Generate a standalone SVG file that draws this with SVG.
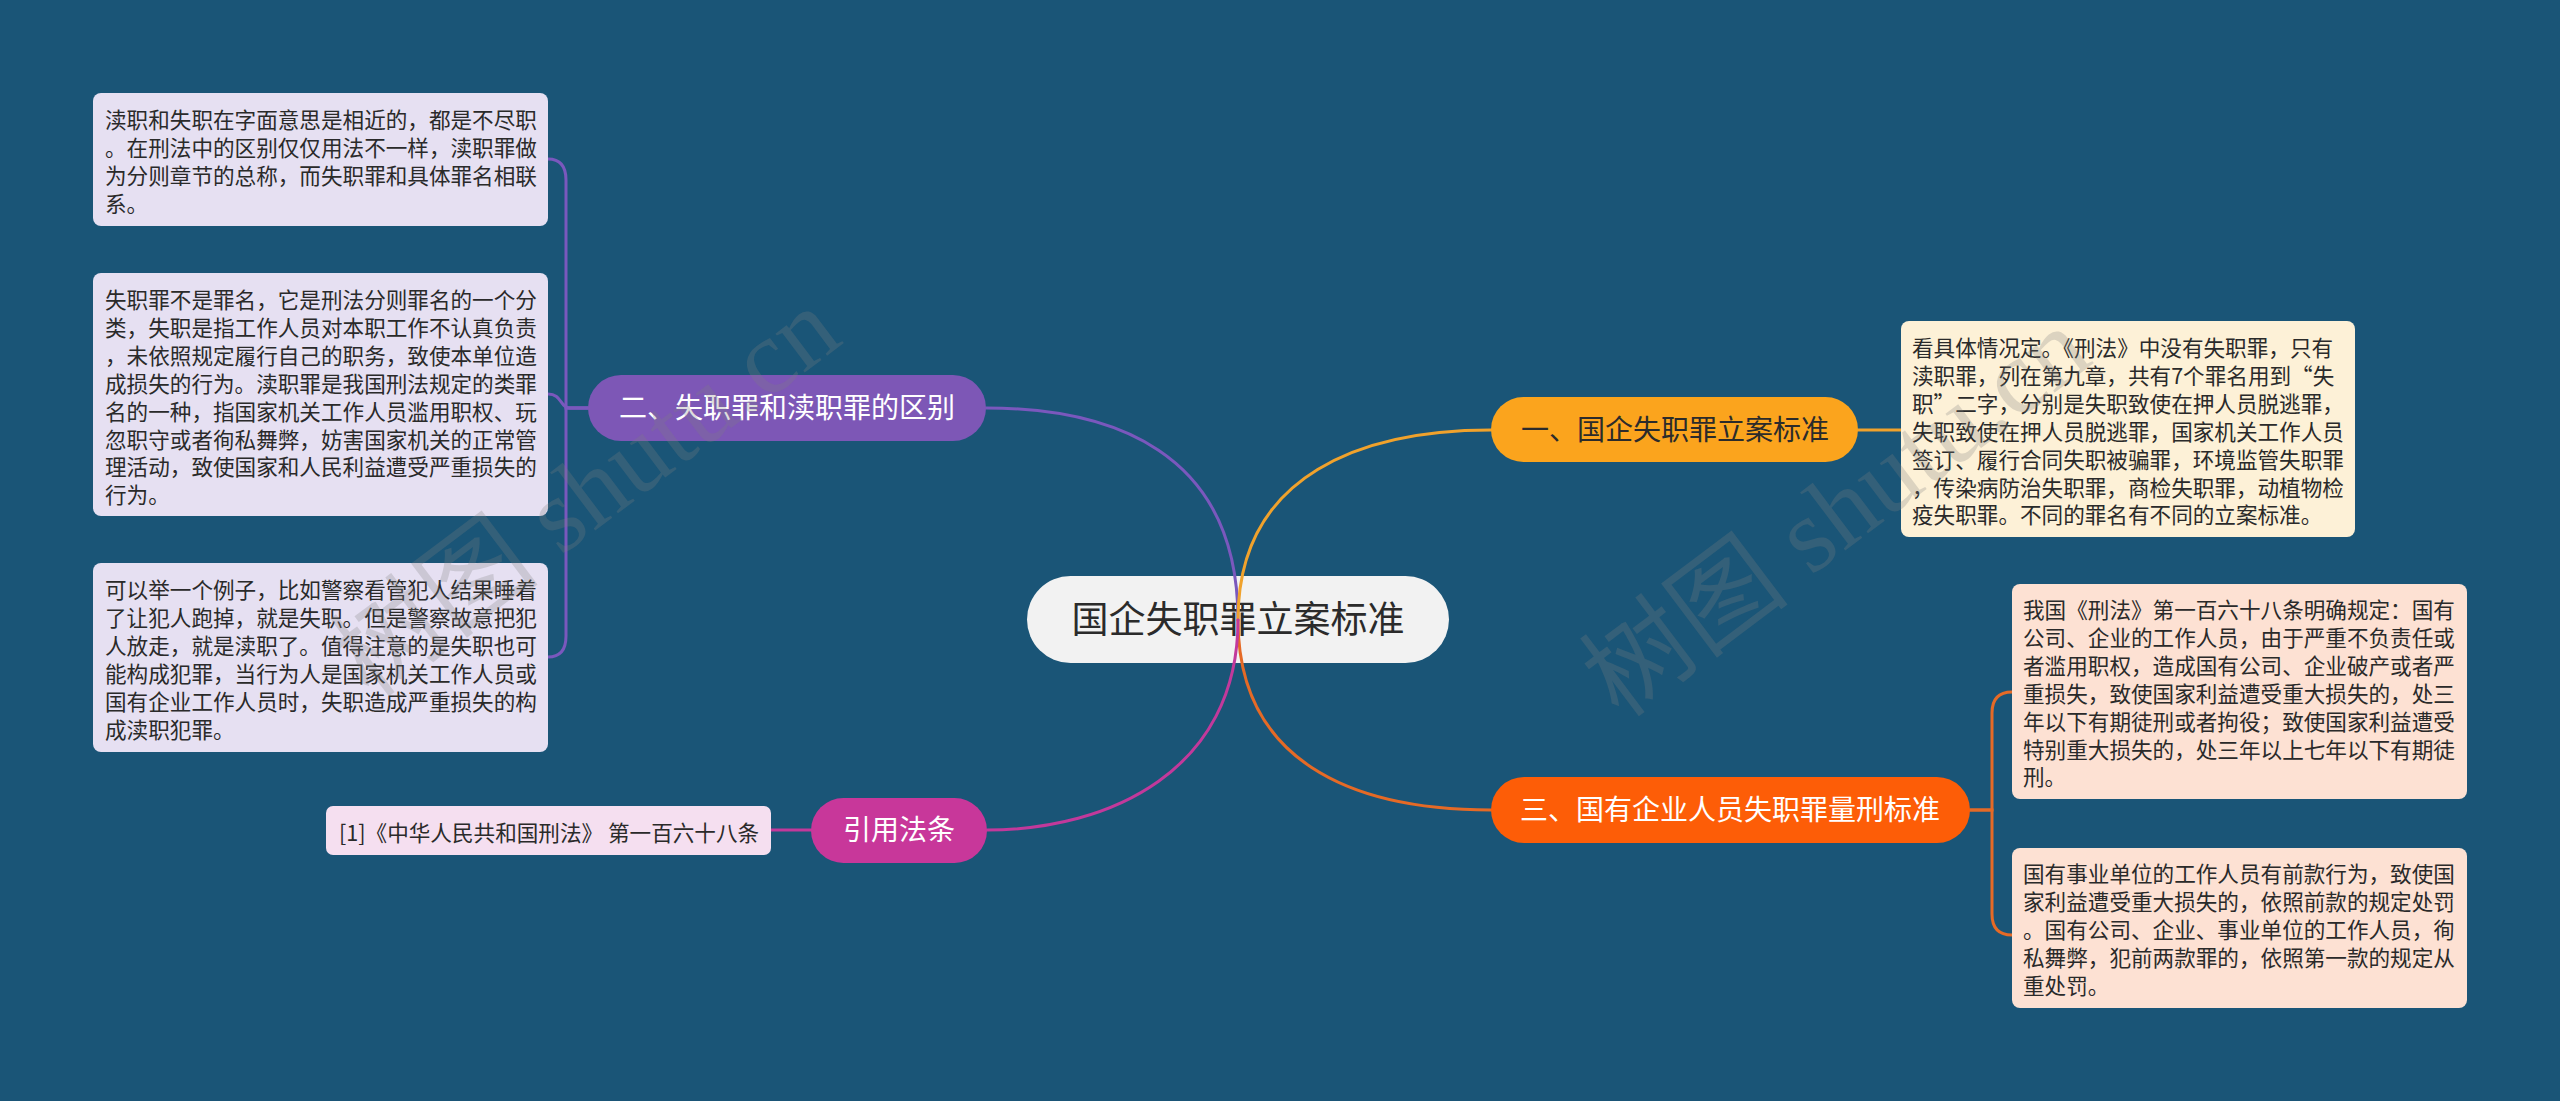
<svg xmlns="http://www.w3.org/2000/svg" width="2560" height="1101" viewBox="0 0 2560 1101">
<style>
text{font-family:"Noto Sans CJK SC","Noto Sans",sans-serif;}
.leaf{font-size:21.6px;fill:#2a2a2a;}
.br{font-size:28px;text-anchor:middle;}
.wm{font-family:"Liberation Serif","Noto Sans CJK SC",serif;font-size:106px;fill:#808080;fill-opacity:0.26;}
.c{fill:none;stroke-width:3;stroke-linecap:round;}
</style>
<rect x="0" y="0" width="2560" height="1101" fill="#1a5577"/>

<g id="center">
<rect x="1027" y="576" width="422" height="87" rx="43.5" fill="#f2f2f2"/>
<text x="1238" y="633" font-size="37" text-anchor="middle" fill="#2b2b2b">国企失职罪立案标准</text>
</g>

<g id="connectors">
<path class="c" stroke="#7a58bd" d="M986,408 C1110,408 1238,450 1238,620"/>
<path class="c" stroke="#f0a22c" d="M1491,430 C1366,430 1238,472 1238,620"/>
<path class="c" stroke="#e56a26" d="M1238,620 C1238,760 1350,810 1491,810"/>
<path class="c" stroke="#c2399b" d="M1238,620 C1238,770 1110,830 987,830"/>
<path class="c" stroke="#7a58bd" d="M588,408 H566 V180 Q566,159 548,159"/>
<path class="c" stroke="#7a58bd" d="M588,408 H570 C560,408 562,394 548,394"/>
<path class="c" stroke="#7a58bd" d="M588,408 H566 V636 Q566,657 548,657"/>
<path class="c" stroke="#f0a22c" d="M1858,430 H1901"/>
<path class="c" stroke="#e56a26" d="M1970,810 H1992 V713 Q1992,692 2012,692"/>
<path class="c" stroke="#e56a26" d="M1970,810 H1992 V914 Q1992,935 2012,935"/>
<path class="c" stroke="#c2399b" d="M811,830 H771"/>
</g>

<g id="n1">
<rect x="1491" y="397" width="367" height="65" rx="32.5" fill="#fba41d"/>
<text class="br" x="1675" y="440" fill="#2b2b2b">一、国企失职罪立案标准</text>
</g>
<g id="n1-leaf">
<rect x="1901" y="321" width="454" height="216" rx="8" fill="#fdf1d7"/>
<text class="leaf" fill="#3a2c1c">
<tspan x="1912" y="356">看具体情况定。《刑法》中没有失职罪，只有</tspan>
<tspan x="1912" y="383.9">渎职罪，列在第九章，共有7个罪名用到“失</tspan>
<tspan x="1912" y="411.8">职”二字，分别是失职致使在押人员脱逃罪，</tspan>
<tspan x="1912" y="439.7">失职致使在押人员脱逃罪，国家机关工作人员</tspan>
<tspan x="1912" y="467.6">签订、履行合同失职被骗罪，环境监管失职罪</tspan>
<tspan x="1912" y="495.5">，传染病防治失职罪，商检失职罪，动植物检</tspan>
<tspan x="1912" y="523.4">疫失职罪。不同的罪名有不同的立案标准。</tspan>
</text>
</g>

<g id="n2">
<rect x="588" y="375" width="398" height="66" rx="33" fill="#7d57b6"/>
<text class="br" x="787" y="418" fill="#ffffff">二、失职罪和渎职罪的区别</text>
</g>
<g id="n2-leaf1">
<rect x="93" y="93" width="455" height="133" rx="8" fill="#e6e0f2"/>
<text class="leaf">
<tspan x="105" y="128">渎职和失职在字面意思是相近的，都是不尽职</tspan>
<tspan x="105" y="155.9">。在刑法中的区别仅仅用法不一样，渎职罪做</tspan>
<tspan x="105" y="183.8">为分则章节的总称，而失职罪和具体罪名相联</tspan>
<tspan x="105" y="211.7">系。</tspan>
</text>
</g>
<g id="n2-leaf2">
<rect x="93" y="273" width="455" height="243" rx="8" fill="#e6e0f2"/>
<text class="leaf">
<tspan x="105" y="308">失职罪不是罪名，它是刑法分则罪名的一个分</tspan>
<tspan x="105" y="335.9">类，失职是指工作人员对本职工作不认真负责</tspan>
<tspan x="105" y="363.8">，未依照规定履行自己的职务，致使本单位造</tspan>
<tspan x="105" y="391.7">成损失的行为。渎职罪是我国刑法规定的类罪</tspan>
<tspan x="105" y="419.6">名的一种，指国家机关工作人员滥用职权、玩</tspan>
<tspan x="105" y="447.5">忽职守或者徇私舞弊，妨害国家机关的正常管</tspan>
<tspan x="105" y="475.4">理活动，致使国家和人民利益遭受严重损失的</tspan>
<tspan x="105" y="503.3">行为。</tspan>
</text>
</g>
<g id="n2-leaf3">
<rect x="93" y="563" width="455" height="189" rx="8" fill="#e6e0f2"/>
<text class="leaf">
<tspan x="105" y="598">可以举一个例子，比如警察看管犯人结果睡着</tspan>
<tspan x="105" y="625.9">了让犯人跑掉，就是失职。但是警察故意把犯</tspan>
<tspan x="105" y="653.8">人放走，就是渎职了。值得注意的是失职也可</tspan>
<tspan x="105" y="681.7">能构成犯罪，当行为人是国家机关工作人员或</tspan>
<tspan x="105" y="709.6">国有企业工作人员时，失职造成严重损失的构</tspan>
<tspan x="105" y="737.5">成渎职犯罪。</tspan>
</text>
</g>

<g id="n3">
<rect x="1491" y="777" width="479" height="66" rx="33" fill="#fd5d07"/>
<text class="br" x="1730" y="820" fill="#ffffff">三、国有企业人员失职罪量刑标准</text>
</g>
<g id="n3-leaf1">
<rect x="2012" y="584" width="455" height="215" rx="8" fill="#fde1d3"/>
<text class="leaf" fill="#3a2418">
<tspan x="2023" y="618">我国《刑法》第一百六十八条明确规定：国有</tspan>
<tspan x="2023" y="645.9">公司、企业的工作人员，由于严重不负责任或</tspan>
<tspan x="2023" y="673.8">者滥用职权，造成国有公司、企业破产或者严</tspan>
<tspan x="2023" y="701.7">重损失，致使国家利益遭受重大损失的，处三</tspan>
<tspan x="2023" y="729.6">年以下有期徒刑或者拘役；致使国家利益遭受</tspan>
<tspan x="2023" y="757.5">特别重大损失的，处三年以上七年以下有期徒</tspan>
<tspan x="2023" y="785.4">刑。</tspan>
</text>
</g>
<g id="n3-leaf2">
<rect x="2012" y="848" width="455" height="160" rx="8" fill="#fde1d3"/>
<text class="leaf" fill="#3a2418">
<tspan x="2023" y="882">国有事业单位的工作人员有前款行为，致使国</tspan>
<tspan x="2023" y="909.9">家利益遭受重大损失的，依照前款的规定处罚</tspan>
<tspan x="2023" y="937.8">。国有公司、企业、事业单位的工作人员，徇</tspan>
<tspan x="2023" y="965.7">私舞弊，犯前两款罪的，依照第一款的规定从</tspan>
<tspan x="2023" y="993.6">重处罚。</tspan>
</text>
</g>

<g id="n4">
<rect x="811" y="798" width="176" height="65" rx="32.5" fill="#c8379a"/>
<text class="br" x="899" y="840" fill="#ffffff">引用法条</text>
</g>
<g id="n4-leaf">
<rect x="326" y="806" width="445" height="49" rx="7" fill="#f5dff0"/>
<text class="leaf" x="339" y="841">[1]《中华人民共和国刑法》 第一百六十八条</text>
</g>

<g id="watermark">
<text class="wm" transform="translate(370,700) rotate(-37)">树图 shutu.cn</text>
<text class="wm" transform="translate(1620,720) rotate(-37)">树图 shutu.cn</text>
</g>
</svg>
